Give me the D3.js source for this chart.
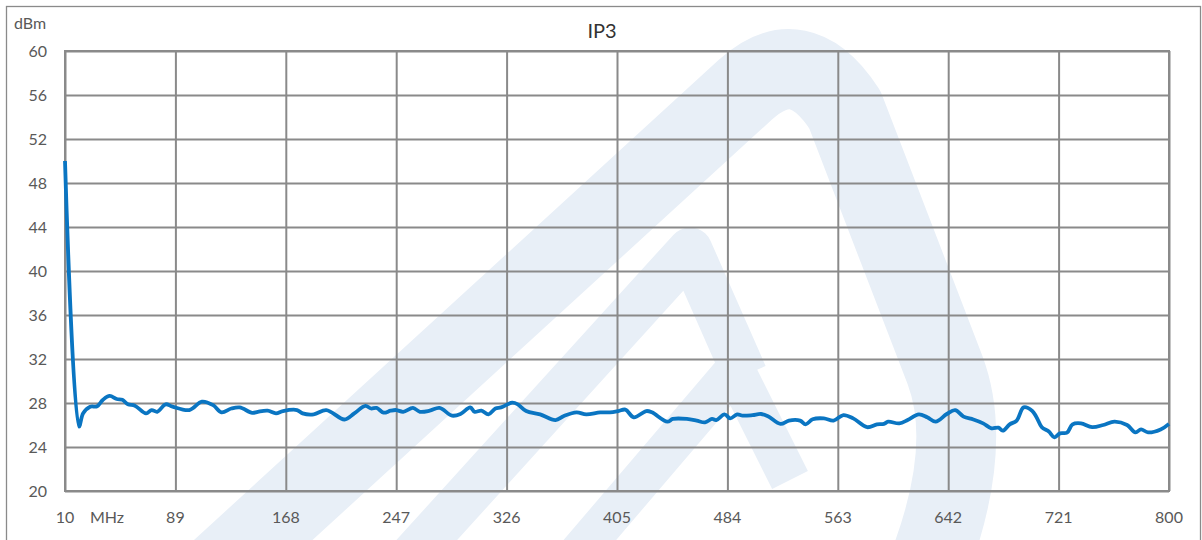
<!DOCTYPE html>
<html>
<head>
<meta charset="utf-8">
<script src="https://cdn.jsdelivr.net/npm/d3@7"></script>
<style>
body { margin: 0; background: #fff; }
svg { display: block; font-family: Lato, "Open Sans", sans-serif; }
</style>
</head>
<body>
<svg id="chart" width="1202" height="540"></svg>
<script>
// IP3 vs frequency
const freqMHz = [10, 20, 23, 28, 33, 37, 42, 47, 51, 55, 60, 68, 72, 76, 82, 87, 99, 108, 116, 122,
    129, 135, 144, 148, 155, 161, 166, 176, 180, 188, 197, 210, 217, 225, 229, 233, 238, 243, 247, 252,
    259, 264, 271, 278, 287, 293, 300, 303, 308, 313, 318, 322, 330, 334, 340, 350, 361, 367, 376, 383,
    393, 400, 406, 411, 417, 426, 430, 441, 445, 455, 462, 468, 473, 476, 482, 486, 491, 495, 502, 508,
    513, 522, 528, 536, 540, 545, 553, 560, 567, 574, 584, 591, 596, 599, 607, 613, 621, 627, 633, 641,
    647, 653, 660, 667, 673, 678, 681, 686, 691, 696, 702, 705, 709, 714, 718, 722, 727, 731, 737, 745,
    753, 761, 770, 776, 780, 785, 794, 800]
const ip3 = [50, 25.85, 27.06, 27.66, 27.7, 28.27, 28.64, 28.36, 28.3, 27.88, 27.76, 27.06, 27.36, 27.2, 27.88, 27.67, 27.36, 28.12, 27.8, 27.15,
    27.5, 27.6, 27.1, 27.2, 27.3, 27.06, 27.27, 27.36, 27.06, 26.97, 27.36, 26.5, 27.06, 27.73, 27.5, 27.55, 27.12, 27.3, 27.36, 27.2,
    27.55, 27.2, 27.3, 27.55, 26.85, 27.0, 27.6, 27.2, 27.3, 26.97, 27.5, 27.6, 28.03, 27.88, 27.27, 26.97, 26.45, 26.82, 27.15, 26.97,
    27.15, 27.15, 27.27, 27.4, 26.7, 27.27, 27.15, 26.3, 26.55, 26.55, 26.4, 26.24, 26.55, 26.45, 26.97, 26.6, 26.97, 26.85, 26.9, 27.0,
    26.8, 26.1, 26.4, 26.4, 26.06, 26.52, 26.6, 26.4, 26.9, 26.6, 25.8, 26.06, 26.1, 26.3, 26.15, 26.45, 26.97, 26.7, 26.3, 27.0,
    27.36, 26.76, 26.5, 26.15, 25.7, 25.76, 25.48, 26.06, 26.4, 27.6, 27.3, 26.76, 25.8, 25.4, 24.88, 25.24, 25.3, 26.06, 26.15, 25.8,
    26.0, 26.3, 26.0, 25.33, 25.6, 25.33, 25.6, 26.1]

const xTicks = [10, 89, 168, 247, 326, 405, 484, 563, 642, 721, 800]
const yTicks = [20, 24, 28, 32, 36, 40, 44, 48, 52, 56, 60]

const W = 1202, H = 540
const margin = {top: 51, right: 33, bottom: 49, left: 65}
const grey = "#8a8a8a", textCol = "#595959"

const svg = d3.select("#chart")

const x = d3.scaleLinear().domain([10, 800]).range([margin.left, W - margin.right])
const y = d3.scaleLinear().domain([20, 60]).range([H - margin.bottom, margin.top])

// chart frame
svg.append("rect")
    .attr("x", 6.5).attr("y", 6.5)
    .attr("width", 1194).attr("height", 560)
    .attr("fill", "#fff")
    .attr("stroke", grey).attr("stroke-width", 1.3)

// faint logo watermark behind the plot
var wm = svg.append("g")
    .attr("fill", "none")
    .attr("stroke", "#e8eff7")
    .attr("stroke-linejoin", "round")
    .attr("stroke-linecap", "butt")
wm.append("path")
    .attr("d", "M 215,575 L 745,90 Q 800,40 845,110 L 945,370 Q 975,450 925,575")
    .attr("stroke-width", 80)
wm.append("path")
    .attr("d", "M 395,575 L 690,250 L 745,375")
    .attr("stroke-width", 45)
wm.append("path")
    .attr("d", "M 560,575 L 735,370 L 790,480")
    .attr("stroke-width", 40)

// grid
svg.append("g")
    .attr("transform", `translate(${margin.left},0)`)
    .call(d3.axisLeft(y).tickValues(yTicks).tickSize(-(W - margin.left - margin.right)).tickFormat(""))
    .call(g => g.select(".domain").remove())
    .selectAll("line").attr("stroke", grey).attr("stroke-width", 2)

svg.append("g")
    .attr("transform", `translate(0,${H - margin.bottom})`)
    .call(d3.axisBottom(x).tickValues(xTicks).tickSize(-(H - margin.top - margin.bottom)).tickFormat(""))
    .call(g => g.select(".domain").remove())
    .selectAll("line").attr("stroke", grey).attr("stroke-width", 2)

svg.append("rect")
    .attr("x", margin.left).attr("y", margin.top)
    .attr("width", W - margin.left - margin.right)
    .attr("height", H - margin.top - margin.bottom)
    .attr("fill", "none")
    .attr("stroke", grey).attr("stroke-width", 2)

// tick labels
svg.append("g")
    .selectAll("text")
    .data(yTicks)
    .enter()
        .append("text")
        .attr("x", 47)
        .attr("y", d => y(d))
        .attr("dy", "0.35em")
        .attr("text-anchor", "end")
        .attr("font-size", 16)
        .attr("fill", textCol)
        .text(d => d)

svg.append("g")
    .selectAll("text")
    .data(xTicks)
    .enter()
        .append("text")
        .attr("x", d => x(d))
        .attr("y", 523)
        .attr("text-anchor", "middle")
        .attr("font-size", 16)
        .attr("fill", textCol)
        .text(d => d)

svg.append("text")
    .attr("x", 107).attr("y", 523)
    .attr("text-anchor", "middle")
    .attr("font-size", 16)
    .attr("fill", textCol)
    .text("MHz")

svg.append("text")
    .attr("x", 14).attr("y", 29)
    .attr("font-size", 16)
    .attr("fill", textCol)
    .text("dBm")

svg.append("text")
    .attr("x", 602).attr("y", 38)
    .attr("text-anchor", "middle")
    .attr("font-size", 20)
    .attr("fill", "#333")
    .text("IP3")

// the trace
const line = d3.line()
    .x((d, i) => x(freqMHz[i]))
    .y(d => y(d))
    .curve(d3.curveCatmullRom.alpha(0.5))

svg.append("path")
    .datum(ip3)
    .attr("d", line)
    .attr("fill", "none")
    .attr("stroke", "#0a75c2")
    .attr("stroke-width", 3.8)
    .attr("stroke-linejoin", "round")
</script>
</body>
</html>
